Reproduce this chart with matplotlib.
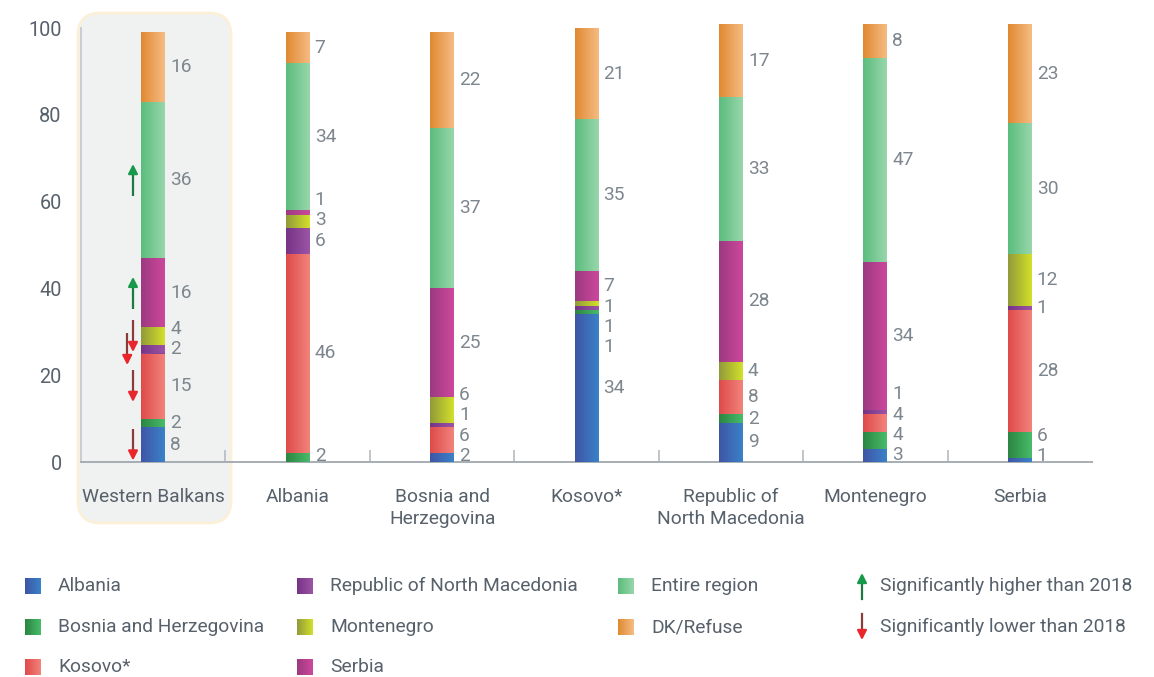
import numpy as np
import matplotlib
matplotlib.use("Agg")
import matplotlib.pyplot as plt
from matplotlib.patches import FancyBboxPatch
from matplotlib.colors import LinearSegmentedColormap

# ---------------- data ----------------
groups = ["Western Balkans", "Albania", "Bosnia and\nHerzegovina", "Kosovo*",
          "Republic of\nNorth Macedonia", "Montenegro", "Serbia"]
series_names = ["Albania", "Bosnia and Herzegovina", "Kosovo*",
                "Republic of North Macedonia", "Montenegro", "Serbia",
                "Entire region", "DK/Refuse"]

albania    = [8, 0, 2, 34, 9, 3, 1]
bosnia     = [2, 2, 0, 1, 2, 4, 6]
kosovo     = [15, 46, 6, 0, 8, 4, 28]
rnm        = [2, 6, 1, 1, 0, 1, 1]
montenegro = [4, 3, 6, 1, 4, 0, 12]
serbia     = [16, 1, 25, 7, 28, 34, 0]
entire     = [36, 34, 37, 35, 33, 47, 30]
dk_refuse  = [16, 7, 22, 21, 17, 8, 23]

# change vs 2018 for the Western Balkans bar (+1 higher, -1 lower, 0 none)
wb_trend = [-1, 0, -1, -1, -1, 1, 1, 0]

yticks = [0, 20, 40, 60, 80, 100]

# ---------------- style ----------------
grad_colors = [("#3f55a6", "#3a82c8"),   # Albania
               ("#2b8642", "#48bb6a"),   # Bosnia
               ("#de4b4b", "#f2837b"),   # Kosovo
               ("#763386", "#9c55a6"),   # RNM
               ("#929a3a", "#d2e02a"),   # Montenegro
               ("#9c3a80", "#cc489c"),   # Serbia
               ("#5bbd7d", "#98d6ab"),   # Entire region
               ("#df8a32", "#f6bb83")]   # DK/Refuse
mid_colors = [LinearSegmentedColormap.from_list("c", c)(0.5) for c in grad_colors]

FONT = "Roboto"
FS = 13.8
TICK_C = "#57616b"
LBL_C = "#7d868e"
W, H = 1154, 677

fig = plt.figure(figsize=(W / 100, H / 100), dpi=100)
fig.patch.set_facecolor("white")

# background overlay in pixel coordinates (highlight box + legend)
bg = fig.add_axes([0, 0, 1, 1], zorder=0)
bg.set_xlim(0, W)
bg.set_ylim(H, 0)
bg.axis("off")

box = FancyBboxPatch((78, 13), 153, 510,
                     boxstyle="round,pad=0,rounding_size=22",
                     facecolor="#f0f1f1", edgecolor="#fcf0d8", lw=2)
bg.add_patch(box)

ax = fig.add_axes([81 / W, 1 - 462 / H, (1092 - 81) / W, (462 - 28) / H], zorder=1)
ax.set_facecolor("none")

x = np.arange(len(groups))
bw = 0.166
data = [albania, bosnia, kosovo, rnm, montenegro, serbia, entire, dk_refuse]

bottom = np.zeros(len(groups))
seg_info = [[] for _ in groups]  # (value, center, series) per group
for si, vals in enumerate(data):
    vals = np.array(vals, dtype=float)
    bars = ax.bar(x, vals, bw, bottom=bottom, color=mid_colors[si], lw=0, zorder=2)
    cmap = LinearSegmentedColormap.from_list("g%d" % si, grad_colors[si])
    for gi, b in enumerate(bars):
        if vals[gi] <= 0:
            continue
        x0, y0 = b.get_x(), b.get_y()
        im = ax.imshow(np.linspace(0, 1, 64)[None, :], cmap=cmap, aspect="auto",
                       extent=(x0, x0 + b.get_width(), y0, y0 + b.get_height()),
                       zorder=3, interpolation="bilinear")
        im.set_clip_path(b)
        seg_info[gi].append((vals[gi], bottom[gi] + vals[gi] / 2, si))
    bottom += vals

# ---------------- value labels with simple de-overlap ----------------
GAP = 4.7
FLOOR = 1.4
BIG = 7
for gi, segs in enumerate(seg_info):
    ys = [c for (_, c, _) in segs]
    n = len(segs)
    fixed = [segs[i][0] >= BIG for i in range(n)]
    i = 0
    while i < n:
        if fixed[i]:
            i += 1
            continue
        j = i
        while j < n and not fixed[j]:
            j += 1
        lower = ys[i - 1] + GAP if i > 0 else FLOOR
        upper = ys[j] - GAP if j < n else 200
        prev = lower - GAP
        for k in range(i, j):
            ys[k] = max(ys[k], prev + GAP)
            prev = ys[k]
        nxt = upper + GAP
        for k in range(j - 1, i - 1, -1):
            ys[k] = min(ys[k], nxt - GAP)
            nxt = ys[k]
        i = j
    for (v, c, si), yy in zip(segs, ys):
        ax.text(x[gi] + bw / 2 + 0.035, yy, "%d" % v, ha="left", va="center",
                fontsize=FS, color=LBL_C, family=FONT, zorder=5)

# ---------------- trend arrows (Western Balkans) ----------------
ARROW_LEN = 7.3
arrow_dx = {3: -0.18}
cum = 0.0
for si, vals in enumerate(data):
    v = vals[0]
    c = cum + v / 2
    cum += v
    t = wb_trend[si]
    if t == 0 or v == 0:
        continue
    ax_x = x[0] + arrow_dx.get(si, -0.14)
    if t > 0:
        col = "#17994a"; stem = "#1f7a42"
        y_tail, y_tip = c - ARROW_LEN / 2, c + ARROW_LEN / 2
    else:
        col = "#e8262b"; stem = "#8c3b3b"
        y_tail, y_tip = c + ARROW_LEN / 2, c - ARROW_LEN / 2
    d = np.sign(y_tip - y_tail)
    ax.plot([ax_x, ax_x], [y_tail, y_tip - d * 1.5],
            color=stem, lw=1.6, zorder=6, solid_capstyle="butt")
    ax.annotate("", xy=(ax_x, y_tip), xytext=(ax_x, y_tip - d * 2.2),
                arrowprops=dict(arrowstyle="-|>,head_length=0.55,head_width=0.28",
                                color=col, lw=1.6, shrinkA=0, shrinkB=0), zorder=7)

# ---------------- axes ----------------
ax.set_xlim(-0.5, 6.5)
ax.set_ylim(0, 100)
ax.set_yticks(yticks)
ax.set_yticklabels([str(t) for t in yticks], family=FONT, fontsize=FS + 0.5, color=TICK_C)
ax.tick_params(axis="y", length=0, pad=14)
ax.set_xticks(x)
ax.set_xticklabels(groups, family=FONT, fontsize=FS, color=TICK_C, linespacing=1.25)
ax.tick_params(axis="x", length=0, pad=19)
ax.set_xticks(np.arange(0.5, 6.0, 1.0), minor=True)
ax.tick_params(axis="x", which="minor", direction="in", length=9, width=1.2, color="#b5bbc0")
for s in ["top", "right"]:
    ax.spines[s].set_visible(False)
ax.spines["left"].set_color("#c9ced2")
ax.spines["left"].set_linewidth(1.4)
ax.spines["bottom"].set_color("#a6adb3")
ax.spines["bottom"].set_linewidth(1.4)

# ---------------- legend (manual, pixel coordinates) ----------------
col_sq_x = [25, 297, 618]
text_dx = 33
row_y = [586, 627, 667]
SQ = 16
leg_slots = [(0, 0), (0, 1), (0, 2), (1, 0), (1, 1), (1, 2), (2, 0), (2, 1)]
for si, (cc, rr) in enumerate(leg_slots):
    sx, sy = col_sq_x[cc], row_y[rr]
    cmap = LinearSegmentedColormap.from_list("l%d" % si, grad_colors[si])
    bg.imshow(np.linspace(0, 1, 32)[None, :], cmap=cmap, aspect="auto",
              extent=(sx, sx + SQ, sy + SQ / 2, sy - SQ / 2), interpolation="bilinear")
    bg.text(sx + text_dx, sy, series_names[si], ha="left", va="center",
            family=FONT, fontsize=FS, color=TICK_C)

ar_x = 862
bg.plot([ar_x, ar_x], [row_y[0] + 13, row_y[0] - 6], color="#1f7a42", lw=1.6)
bg.annotate("", xy=(ar_x, row_y[0] - 13), xytext=(ar_x, row_y[0] - 4),
            arrowprops=dict(arrowstyle="-|>,head_length=0.55,head_width=0.28",
                            color="#17994a", lw=1.6, shrinkA=0, shrinkB=0))
bg.plot([ar_x, ar_x], [row_y[1] - 13, row_y[1] + 6], color="#8c3b3b", lw=1.6)
bg.annotate("", xy=(ar_x, row_y[1] + 13), xytext=(ar_x, row_y[1] + 4),
            arrowprops=dict(arrowstyle="-|>,head_length=0.55,head_width=0.28",
                            color="#e8262b", lw=1.6, shrinkA=0, shrinkB=0))
bg.text(ar_x + 18, row_y[0], "Significantly higher than 2018", ha="left", va="center",
        family=FONT, fontsize=FS, color=TICK_C)
bg.text(ar_x + 18, row_y[1], "Significantly lower than 2018", ha="left", va="center",
        family=FONT, fontsize=FS, color=TICK_C)
bg.set_xlim(0, W)
bg.set_ylim(H, 0)

fig.savefig("out.png", dpi=100, facecolor="white")
